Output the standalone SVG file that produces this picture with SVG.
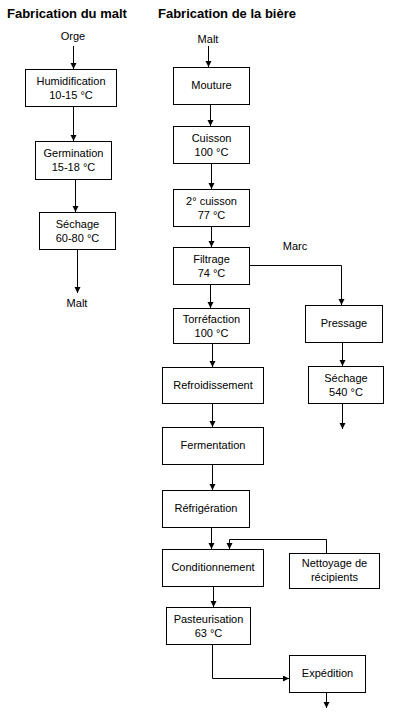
<svg xmlns="http://www.w3.org/2000/svg" width="409" height="713" viewBox="0 0 409 713">
<style>
.box{fill:#fff;stroke:#000;stroke-width:1}
.t{font-family:"Liberation Sans",Arial,sans-serif;font-size:11px;fill:#000;text-anchor:middle}
.title{font-family:"Liberation Sans",Arial,sans-serif;font-size:13px;font-weight:bold;fill:#000}
.c{fill:none;stroke:#000;stroke-width:1;marker-end:url(#ah)}
.l{fill:none;stroke:#000;stroke-width:1}
</style>
<defs>
<marker id="ah" markerUnits="userSpaceOnUse" markerWidth="7" markerHeight="7" refX="6" refY="3" orient="auto">
<path d="M0,0 L6,3 L0,6 z" fill="#000"/>
</marker>
</defs>
<rect width="409" height="713" fill="#fff"/>
<text class="title" x="7" y="18">Fabrication du malt</text>
<text class="title" x="158" y="18">Fabrication de la bière</text>
<g id="connectors">
<path class="c" d="M73.5,46 V69"/>
<path class="c" d="M73.5,106 V141"/>
<path class="c" d="M75.5,179 V212"/>
<path class="c" d="M77.5,249 V293"/>
<path class="c" d="M208.5,46 V67"/>
<path class="c" d="M210.5,104 V126"/>
<path class="c" d="M211.5,163 V189"/>
<path class="c" d="M211.5,226 V247"/>
<path class="c" d="M210.5,284 V308"/>
<path class="c" d="M249,265.5 H341.5 V305"/>
<path class="c" d="M212.5,343 V367"/>
<path class="c" d="M212.5,403 V427"/>
<path class="c" d="M212.5,464 V490"/>
<path class="c" d="M211.5,527 V549"/>
<path class="c" d="M326.5,553 V539.5 H229.5 V549"/>
<path class="c" d="M213.5,586 V607"/>
<path class="c" d="M212.5,644 V678.5 H289"/>
<path class="c" d="M342.5,342 V366"/>
<path class="c" d="M342.5,403 V429"/>
<path class="c" d="M326.5,692 V708"/>
</g>
<g id="orge"><text class="t" x="73" y="40">Orge</text></g>
<g id="humidification"><rect class="box" x="25.5" y="69.5" width="91" height="37"/><text class="t" x="71" y="85">Humidification</text><text class="t" x="71" y="99">10-15 °C</text></g>
<g id="germination"><rect class="box" x="35.5" y="141.5" width="76" height="38"/><text class="t" x="73.5" y="157">Germination</text><text class="t" x="73.5" y="171">15-18 °C</text></g>
<g id="sechage-malt"><rect class="box" x="39.5" y="212.5" width="76" height="37"/><text class="t" x="77.5" y="228">Séchage</text><text class="t" x="77.5" y="242">60-80 °C</text></g>
<g id="malt-out"><text class="t" x="77" y="307">Malt</text></g>
<g id="malt-in"><text class="t" x="208" y="43">Malt</text></g>
<g id="mouture"><rect class="box" x="173.5" y="67.5" width="76" height="37"/><text class="t" x="211.5" y="89">Mouture</text></g>
<g id="cuisson"><rect class="box" x="173.5" y="126.5" width="76" height="37"/><text class="t" x="211.5" y="142">Cuisson</text><text class="t" x="211.5" y="156">100 °C</text></g>
<g id="cuisson2"><rect class="box" x="173.5" y="189.5" width="76" height="37"/><text class="t" x="211.5" y="205">2° cuisson</text><text class="t" x="211.5" y="219">77 °C</text></g>
<g id="filtrage"><rect class="box" x="173.5" y="247.5" width="76" height="37"/><text class="t" x="211.5" y="263">Filtrage</text><text class="t" x="211.5" y="277">74 °C</text></g>
<g id="marc"><text class="t" x="295" y="250">Marc</text></g>
<g id="torrefaction"><rect class="box" x="173.5" y="308.5" width="76" height="35"/><text class="t" x="211.5" y="323">Torréfaction</text><text class="t" x="211.5" y="337">100 °C</text></g>
<g id="refroidissement"><rect class="box" x="162.5" y="367.5" width="101" height="36"/><text class="t" x="213" y="389">Refroidissement</text></g>
<g id="fermentation"><rect class="box" x="162.5" y="427.5" width="101" height="37"/><text class="t" x="213" y="449">Fermentation</text></g>
<g id="refrigeration"><rect class="box" x="162.5" y="490.5" width="87" height="37"/><text class="t" x="206" y="512">Réfrigération</text></g>
<g id="conditionnement"><rect class="box" x="162.5" y="549.5" width="101" height="37"/><text class="t" x="213" y="571">Conditionnement</text></g>
<g id="pasteurisation"><rect class="box" x="166.5" y="607.5" width="84" height="37"/><text class="t" x="208.5" y="623">Pasteurisation</text><text class="t" x="208.5" y="637">63 °C</text></g>
<g id="pressage"><rect class="box" x="305.5" y="305.5" width="77" height="37"/><text class="t" x="344" y="327">Pressage</text></g>
<g id="sechage-marc"><rect class="box" x="308.5" y="366.5" width="75" height="37"/><text class="t" x="346" y="382">Séchage</text><text class="t" x="346" y="396">540 °C</text></g>
<g id="nettoyage"><rect class="box" x="289.5" y="553.5" width="90" height="35"/><text class="t" x="334.5" y="567">Nettoyage de</text><text class="t" x="334.5" y="581">récipients</text></g>
<g id="expedition"><rect class="box" x="289.5" y="655.5" width="76" height="37"/><text class="t" x="327.5" y="677">Expédition</text></g>
</svg>
